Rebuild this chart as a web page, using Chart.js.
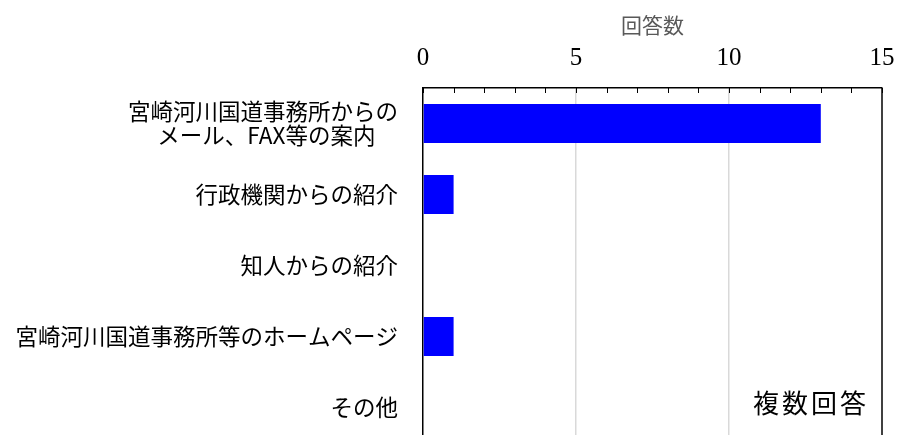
<!DOCTYPE html>
<html>
<head>
<meta charset="utf-8">
<script src="https://cdn.jsdelivr.net/npm/chart.js@4/dist/chart.umd.min.js"></script>
<style>
  html, body { margin: 0; padding: 0; background: #fff; overflow: hidden; }
</style>
</head>
<body>
<canvas id="chart" width="898" height="450"></canvas>
<script>
// categories (top to bottom) and answer counts
// (the trailing ideographic space keeps the second line roughly centred under the first)
var categories = [
  ['宮崎河川国道事務所からの', 'メール、FAX等の案内　'],
  '行政機関からの紹介',
  '知人からの紹介',
  '宮崎河川国道事務所等のホームページ',
  'その他'
];
var counts = [13, 1, 0, 1, 0];
var axisTitle = '回答数';
var noteText = '複数回答';

var CJK = '"Noto Sans CJK JP", "Noto Sans", sans-serif';
var SERIF = '"Liberation Serif", "DejaVu Serif", serif';

// short tick marks pointing down from the top border, right border, and the note
var framePlugin = {
  id: 'frame',
  afterDraw: function(chart) {
    var ctx = chart.ctx;
    var area = chart.chartArea;
    var xs = chart.scales.x;
    ctx.save();
    ctx.strokeStyle = '#000';
    ctx.lineWidth = 1;
    xs.ticks.forEach(function(t) {
      var px = Math.round(xs.getPixelForValue(t.value)) + 0.5;
      ctx.beginPath();
      ctx.moveTo(px, area.top);
      ctx.lineTo(px, area.top + 5);
      ctx.stroke();
    });
    ctx.lineWidth = 1.5;
    ctx.beginPath();
    ctx.moveTo(area.right, area.top);
    ctx.lineTo(area.right, area.bottom);
    ctx.stroke();

    ctx.fillStyle = '#000';
    ctx.font = '26px ' + CJK;
    if ('letterSpacing' in ctx) ctx.letterSpacing = '3px';
    ctx.textAlign = 'center';
    ctx.textBaseline = 'middle';
    ctx.fillText(noteText, area.right - 71, 403);
    ctx.restore();
  }
};

new Chart(document.getElementById('chart').getContext('2d'), {
  type: 'bar',
  data: {
    labels: categories,
    datasets: [{
      data: counts,
      backgroundColor: '#0000ff',
      borderWidth: 0,
      barPercentage: 0.55,
      categoryPercentage: 1
    }]
  },
  options: {
    indexAxis: 'y',
    responsive: false,
    animation: false,
    devicePixelRatio: 1,
    layout: { padding: { top: 12, right: 16, bottom: 7, left: 0 } },
    plugins: {
      legend: { display: false },
      tooltip: { enabled: false }
    },
    scales: {
      x: {
        position: 'top',
        min: 0,
        max: 15,
        ticks: {
          stepSize: 1,
          autoSkip: false,
          maxRotation: 0,
          padding: 15,
          color: '#000',
          font: { family: SERIF, size: 25, lineHeight: 1.2 },
          callback: function(v) { return v % 5 === 0 ? String(v) : ''; }
        },
        grid: {
          drawTicks: false,
          color: function(c) {
            var v = c.tick ? c.tick.value : null;
            return (v === 5 || v === 10) ? '#d9d9d9' : 'rgba(0,0,0,0)';
          },
          lineWidth: 1.5
        },
        border: { display: true, color: '#000', width: 1.5 },
        title: {
          display: true,
          text: axisTitle,
          color: '#595959',
          font: { family: CJK, size: 21, lineHeight: 1.2 },
          padding: { top: 0, bottom: 7 }
        },
        afterFit: function(scale) {
          scale.height = 76;
          scale.paddingLeft = 0;
          scale.paddingRight = 0;
        }
      },
      y: {
        ticks: {
          color: '#000',
          padding: 25,
          font: { family: CJK, size: 22.5, lineHeight: 1.08 }
        },
        grid: { display: false, drawTicks: false },
        border: { display: true, color: '#000', width: 1.5 },
        afterFit: function(scale) {
          scale.width = 423;
          scale.paddingTop = 0;
          scale.paddingBottom = 0;
        }
      }
    }
  },
  plugins: [framePlugin]
});
</script>
</body>
</html>
